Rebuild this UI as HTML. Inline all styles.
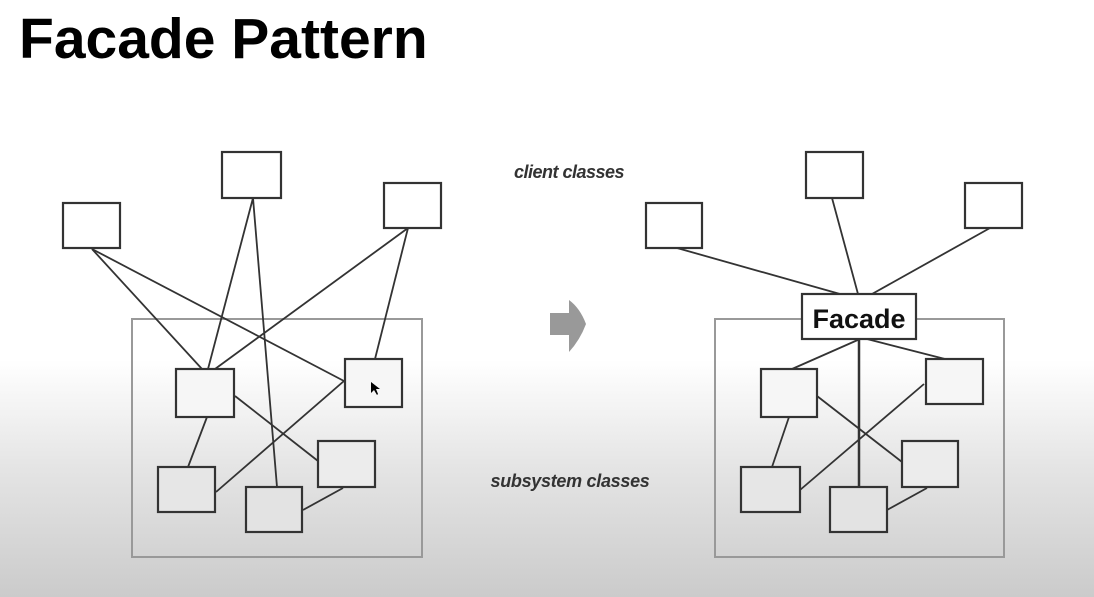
<!DOCTYPE html>
<html><head><meta charset="utf-8"><style>
html,body{margin:0;padding:0}
body{width:1094px;height:597px;overflow:hidden;background:linear-gradient(to bottom,#fff 0,#fff 360px,#e4e4e4 470px,#cbcbcb 597px);font-family:"Liberation Sans",sans-serif;position:relative}
h1{position:absolute;left:19px;top:4px;margin:0;font-size:57px;font-weight:bold;color:#000;line-height:70px}
svg{position:absolute;left:0;top:0}
</style></head><body>
<h1>Facade Pattern</h1>
<svg width="1094" height="597" viewBox="0 0 1094 597">
<g fill="none" stroke="#999" stroke-width="2">
<rect x="132" y="319" width="290" height="238"/>
<rect x="715" y="319" width="289" height="238"/>
</g>
<g stroke="#333" stroke-width="1.8" fill="none">
<line x1="92" y1="249" x2="202" y2="369"/>
<line x1="92" y1="249" x2="344" y2="381"/>
<line x1="253" y1="198" x2="208" y2="369"/>
<line x1="253" y1="198" x2="277" y2="487"/>
<line x1="408" y1="228" x2="215" y2="369"/>
<line x1="408" y1="228" x2="375" y2="359"/>
<line x1="235" y1="396" x2="318" y2="461"/>
<line x1="207" y1="417" x2="188" y2="467"/>
<line x1="344" y1="381" x2="216" y2="492"/>
<line x1="343" y1="488" x2="303" y2="510"/>
<line x1="677" y1="248" x2="840" y2="294"/>
<line x1="832" y1="198" x2="858" y2="294"/>
<line x1="990" y1="228" x2="872" y2="294"/>
<line x1="860" y1="339" x2="792" y2="369"/>
<line x1="867" y1="339" x2="945" y2="359"/>
<line x1="859" y1="339" x2="859" y2="487" stroke-width="2.5"/>
<line x1="817" y1="396" x2="902" y2="462"/>
<line x1="789" y1="417" x2="772" y2="467"/>
<line x1="924" y1="384" x2="800" y2="490"/>
<line x1="927" y1="488" x2="887" y2="510"/>
</g>
<g fill="#fff" stroke="#333" stroke-width="2.2">
<rect x="63" y="203" width="57" height="45"/>
<rect x="222" y="152" width="59" height="46"/>
<rect x="384" y="183" width="57" height="45"/>
<rect x="176" y="369" width="58" height="48" fill="#f6f6f6"/>
<rect x="345" y="359" width="57" height="48" fill="#f6f6f6"/>
<rect x="318" y="441" width="57" height="46" fill="#ececec"/>
<rect x="158" y="467" width="57" height="45" fill="#e6e6e6"/>
<rect x="246" y="487" width="56" height="45" fill="#e3e3e3"/>
<rect x="646" y="203" width="56" height="45"/>
<rect x="806" y="152" width="57" height="46"/>
<rect x="965" y="183" width="57" height="45"/>
<rect x="802" y="294" width="114" height="45"/>
<rect x="761" y="369" width="56" height="48" fill="#f6f6f6"/>
<rect x="926" y="359" width="57" height="45" fill="#f6f6f6"/>
<rect x="902" y="441" width="56" height="46" fill="#ececec"/>
<rect x="741" y="467" width="59" height="45" fill="#e6e6e6"/>
<rect x="830" y="487" width="57" height="45" fill="#e3e3e3"/>
</g>
<text x="859" y="328" text-anchor="middle" font-family="Liberation Sans, sans-serif" font-weight="bold" font-size="27" fill="#111">Facade</text>
<text x="569" y="178" text-anchor="middle" font-family="Liberation Sans, sans-serif" font-style="italic" font-weight="bold" font-size="18" fill="#333" letter-spacing="-0.5">client classes</text>
<text x="570" y="487" text-anchor="middle" font-family="Liberation Sans, sans-serif" font-style="italic" font-weight="bold" font-size="18" fill="#333" letter-spacing="-0.3">subsystem classes</text>
<path d="M550 313 L569 313 L569 300 Q580 308 586 324 Q580 340 569 352 L569 335 L550 335 Z" fill="#999"/>
<path d="M371 382 L371 393 L374 390 L377 395 L378 394 L376 389 L380 389 Z" fill="#000"/>
</svg>
</body></html>
